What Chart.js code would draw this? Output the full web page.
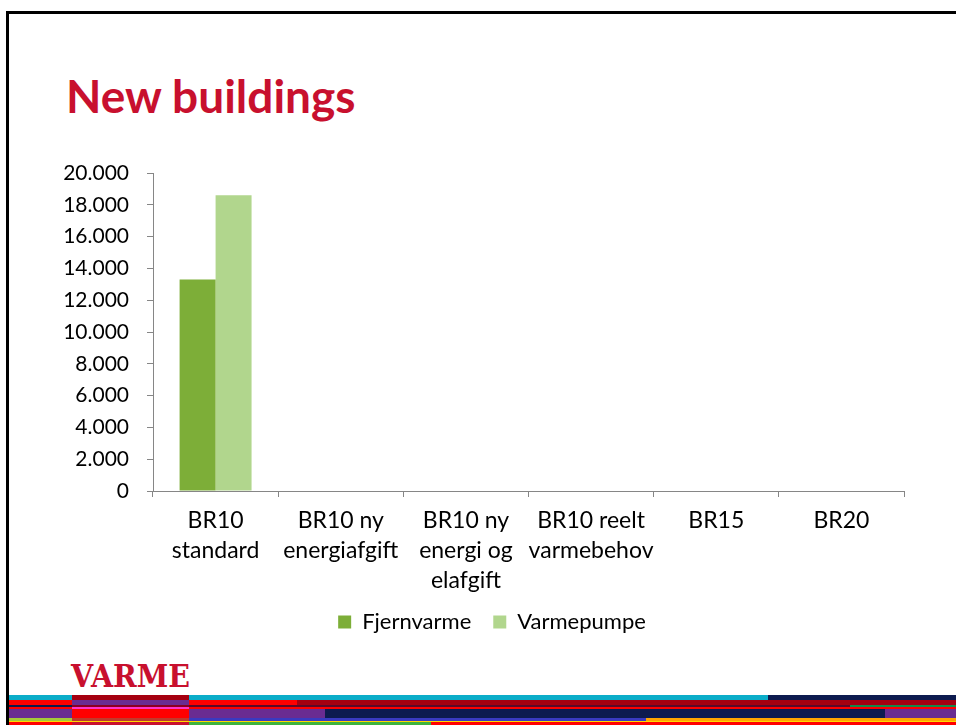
<!DOCTYPE html>
<html>
<head>
<meta charset="utf-8">
<script src="https://cdn.jsdelivr.net/npm/chart.js@4"></script>
<style>
  html, body { margin: 0; padding: 0; background: #fff; }
  #slide { position: relative; width: 956px; height: 725px; overflow: hidden; background: #fff; }
  #frameLeft { position: absolute; left: 6px; top: 11px; width: 3px; height: 714px; background: #000; }
  #frameTop { position: absolute; left: 6px; top: 11px; width: 950px; height: 3px; background: #000; }
  #title { position: absolute; left: 66px; top: 71px; font: bold 46px Lato, sans-serif; line-height: 50px; color: #C8102E; white-space: nowrap; }
  #logo { position: absolute; left: 71px; top: 661px; font: bold 31px "DejaVu Serif", serif; line-height: 31px; color: #C8102E; transform-origin: 0 0; transform: scaleX(0.92); }
  .s { position: absolute; }
  #chart { position: absolute; left: 0; top: 0; }
</style>
</head>
<body>
<div id="slide">
  <div id="frameTop"></div>
  <div id="frameLeft"></div>
  <div id="title">New buildings</div>
  <div id="logo">VARME</div>

  <!-- bottom stripes -->
  <div class="s" style="left:9px;top:695px;width:63px;height:5px;background:#0BADC9"></div>
  <div class="s" style="left:72px;top:695px;width:117px;height:5px;background:#A50010"></div>
  <div class="s" style="left:189px;top:695px;width:579px;height:5px;background:#0BADC9"></div>
  <div class="s" style="left:768px;top:695px;width:188px;height:5px;background:#0D1B4F"></div>

  <div class="s" style="left:9px;top:700px;width:63px;height:5px;background:#FF0000"></div>
  <div class="s" style="left:72px;top:700px;width:117px;height:5px;background:#6A2C91"></div>
  <div class="s" style="left:189px;top:700px;width:108px;height:5px;background:#FF0000"></div>
  <div class="s" style="left:297px;top:700px;width:659px;height:5px;background:#A50010"></div>

  <div class="s" style="left:9px;top:705px;width:63px;height:2px;background:#0D1B4F"></div>
  <div class="s" style="left:72px;top:705px;width:117px;height:2px;background:#8A0020"></div>
  <div class="s" style="left:189px;top:705px;width:661px;height:2px;background:#5A0A2A"></div>
  <div class="s" style="left:850px;top:705px;width:106px;height:2px;background:#138A4B"></div>

  <div class="s" style="left:9px;top:707px;width:947px;height:2px;background:#FF0000"></div>
  <div class="s" style="left:72px;top:707px;width:117px;height:2px;background:#FF33CC"></div>

  <div class="s" style="left:9px;top:709px;width:63px;height:9px;background:#6A2C91"></div>
  <div class="s" style="left:72px;top:709px;width:117px;height:9px;background:#FF0000"></div>
  <div class="s" style="left:189px;top:709px;width:136px;height:9px;background:#6A2C91"></div>
  <div class="s" style="left:325px;top:709px;width:560px;height:9px;background:#0D1B4F"></div>
  <div class="s" style="left:885px;top:709px;width:71px;height:9px;background:#6A2C91"></div>

  <div class="s" style="left:9px;top:718px;width:63px;height:3px;background:#A5C93A"></div>
  <div class="s" style="left:72px;top:718px;width:117px;height:3px;background:#C0392B"></div>
  <div class="s" style="left:189px;top:718px;width:457px;height:3px;background:#3A3AC0"></div>
  <div class="s" style="left:646px;top:718px;width:310px;height:3px;background:#FFA500"></div>

  <div class="s" style="left:9px;top:721px;width:947px;height:1px;background:#FFD700"></div>
  <div class="s" style="left:9px;top:722px;width:63px;height:3px;background:#FF0000"></div>
  <div class="s" style="left:72px;top:722px;width:117px;height:3px;background:#C8102E"></div>
  <div class="s" style="left:189px;top:722px;width:242px;height:3px;background:#3DB33D"></div>
  <div class="s" style="left:431px;top:722px;width:525px;height:3px;background:#FF0000"></div>

  <canvas id="chart" width="956" height="725"></canvas>
</div>
<script>
const categories = [
  ['BR10', 'standard'],
  ['BR10 ny', 'energiafgift'],
  ['BR10 ny', 'energi og', 'elafgift'],
  ['BR10 reelt', 'varmebehov'],
  ['BR15'],
  ['BR20']
];
const fjernvarme = [13300, null, null, null, null, null];
const varmepumpe = [18600, null, null, null, null, null];
const yTicks = [0, 2000, 4000, 6000, 8000, 10000, 12000, 14000, 16000, 18000, 20000];

// Danish thousands separator: 20000 -> 20.000
const fmt = (v) => String(v).replace(/\B(?=(\d{3})+(?!\d))/g, '.');

const axisGray = '#868686';
const font = { family: 'Lato, sans-serif', size: 23 };

// the slide centres the legend a bit right of the canvas middle
const legendShift = {
  id: 'legendShift',
  afterLayout(chart) {
    const l = chart.legend;
    l.left += 40; l.right += 40;
    l.top -= 12; l.bottom -= 12;
  }
};

new Chart(document.getElementById('chart'), {
  type: 'bar',
  data: {
    labels: categories,
    datasets: [
      { label: 'Fjernvarme', data: fjernvarme, backgroundColor: '#7DAE38' },
      { label: 'Varmepumpe', data: varmepumpe, backgroundColor: '#B1D68D' }
    ]
  },
  plugins: [legendShift],
  options: {
    responsive: false,
    animation: false,
    layout: { padding: { left: 0, right: 52, top: 173, bottom: 70 } },
    datasets: { bar: { categoryPercentage: 0.575, barPercentage: 1 } },
    plugins: {
      tooltip: { enabled: false },
      legend: {
        position: 'bottom',
        labels: {
          font: { ...font, size: 22 },
          color: '#000',
          boxWidth: 13,
          boxHeight: 13,
          padding: 22
        }
      }
    },
    scales: {
      x: {
        grid: { display: true, drawOnChartArea: false, drawTicks: true, tickLength: 6, color: axisGray, offset: true },
        border: { color: axisGray },
        ticks: { font: { ...font, lineHeight: 30 / 23 }, color: '#000', padding: 9, maxRotation: 0, autoSkip: false },
        afterFit: (s) => { s.height = 110; }
      },
      y: {
        min: 0,
        max: 20000,
        afterBuildTicks: (s) => { s.ticks = yTicks.map((v) => ({ value: v })); },
        grid: { display: true, drawOnChartArea: false, drawTicks: true, tickLength: 6, color: axisGray },
        border: { color: axisGray },
        ticks: { font: { ...font, size: 21 }, color: '#000', padding: 18, callback: (v) => fmt(v) },
        afterFit: (s) => { s.width = 153; }
      }
    }
  }
});
</script>
</body>
</html>
